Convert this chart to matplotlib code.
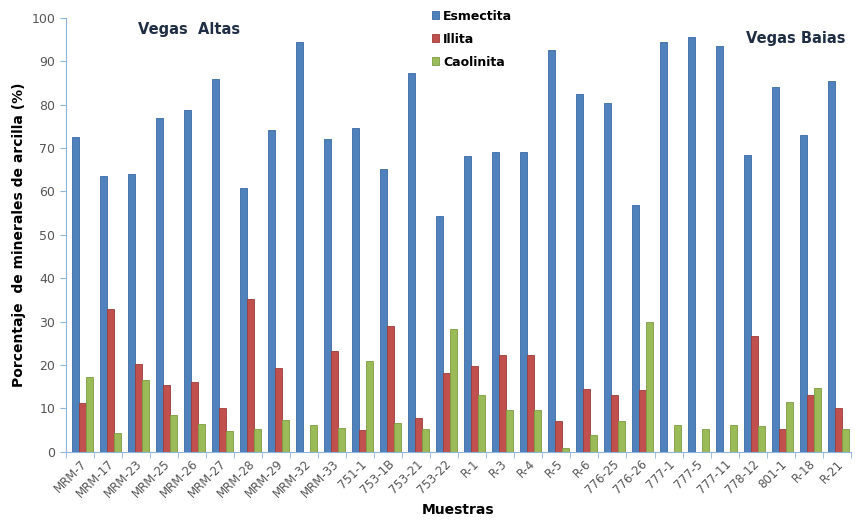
import numpy as np
import matplotlib.pyplot as plt

muestras = ['MRM-7', 'MRM-17', 'MRM-23', 'MRM-25', 'MRM-26', 'MRM-27', 'MRM-28',
            'MRM-29', 'MRM-32', 'MRM-33', '751-1', '753-1B', '753-21', '753-22',
            'R-1', 'R-3', 'R-4', 'R-5', 'R-6', '776-25', '776-26', '777-1',
            '777-5', '777-11', '778-12', '801-1', 'R-18', 'R-21']
esmectita = [72.5, 63.5, 64, 77, 78.7, 86, 60.7, 74.2, 94.5, 72, 74.7, 65.2, 87.3, 54.3,
             68.2, 69, 69, 92.7, 82.5, 80.5, 56.8, 94.5, 95.5, 93.5, 68.3, 84, 73, 85.5]
illita = [11.2, 33, 20.3, 15.5, 16, 10.1, 35.2, 19.4, 0, 23.3, 5, 29.1, 7.9, 18.2,
          19.8, 22.3, 22.3, 7.2, 14.5, 13.2, 14.3, 0, 0, 0, 26.7, 5.3, 13, 10.1]
caolinita = [17.3, 4.3, 16.6, 8.4, 6.4, 4.8, 5.2, 7.4, 6.2, 5.4, 21, 6.7, 5.3, 28.4,
             13, 9.7, 9.7, 0.8, 3.8, 7.1, 30, 6.2, 5.2, 6.2, 5.9, 11.5, 14.8, 5.2]

fig = plt.figure(figsize=(8.55, 5.26), dpi=100)
ax = fig.add_axes([0.077, 0.141, 0.918, 0.825])

ind = np.arange(len(muestras))
w = 0.25
off = 0.08  # groups sit a little right of the category centre
b1 = ax.bar(ind - w + off, esmectita, w, color='#4F81BD', edgecolor='#3A6AA3', linewidth=0.6, label='Esmectita')
b2 = ax.bar(ind + off, illita, w, color='#C0504D', edgecolor='#9E3B38', linewidth=0.6, label='Illita')
b3 = ax.bar(ind + w + off, caolinita, w, color='#9BBB59', edgecolor='#7E9C42', linewidth=0.6, label='Caolinita')

ax.set_xlim(-0.5, len(muestras) - 0.5)
ax.set_ylim(0, 100)
ax.set_yticks(range(0, 101, 10))
ax.set_xticks(ind)
ax.set_xticklabels(muestras, rotation=45, ha='right', rotation_mode='anchor', fontsize=8.5, color='#555555')
ax.set_xticks(np.arange(-0.5, len(muestras), 1), minor=True)
ax.tick_params(axis='x', which='major', length=0, pad=4)
ax.tick_params(axis='x', which='minor', length=4, color='#8EB4D8')
ax.tick_params(axis='y', labelsize=9, labelcolor='#555555', color='#8EB4D8', length=4)

for s in ['top', 'right']:
    ax.spines[s].set_visible(False)
for s in ['left', 'bottom']:
    ax.spines[s].set_color('#8EB4D8')

ax.set_ylabel('Porcentaje  de minerales de arcilla (%)', fontsize=10, fontweight='bold')
ax.set_xlabel('Muestras', fontsize=10, fontweight='bold', labelpad=2)

ax.text(0.157, 0.99, 'Vegas  Altas', transform=ax.transAxes, fontsize=10.5,
        fontweight='bold', color='#1F2E44', ha='center', va='top')
ax.text(0.93, 0.97, 'Vegas Baias', transform=ax.transAxes, fontsize=10.5,
        fontweight='bold', color='#1F2E44', ha='center', va='top')

ax.legend(loc='upper left', bbox_to_anchor=(0.452, 1.045), frameon=False,
          handlelength=0.6, handleheight=0.6, handletextpad=0.3, labelspacing=0.8,
          prop={'weight': 'bold', 'size': 9})

plt.savefig('out.png')
